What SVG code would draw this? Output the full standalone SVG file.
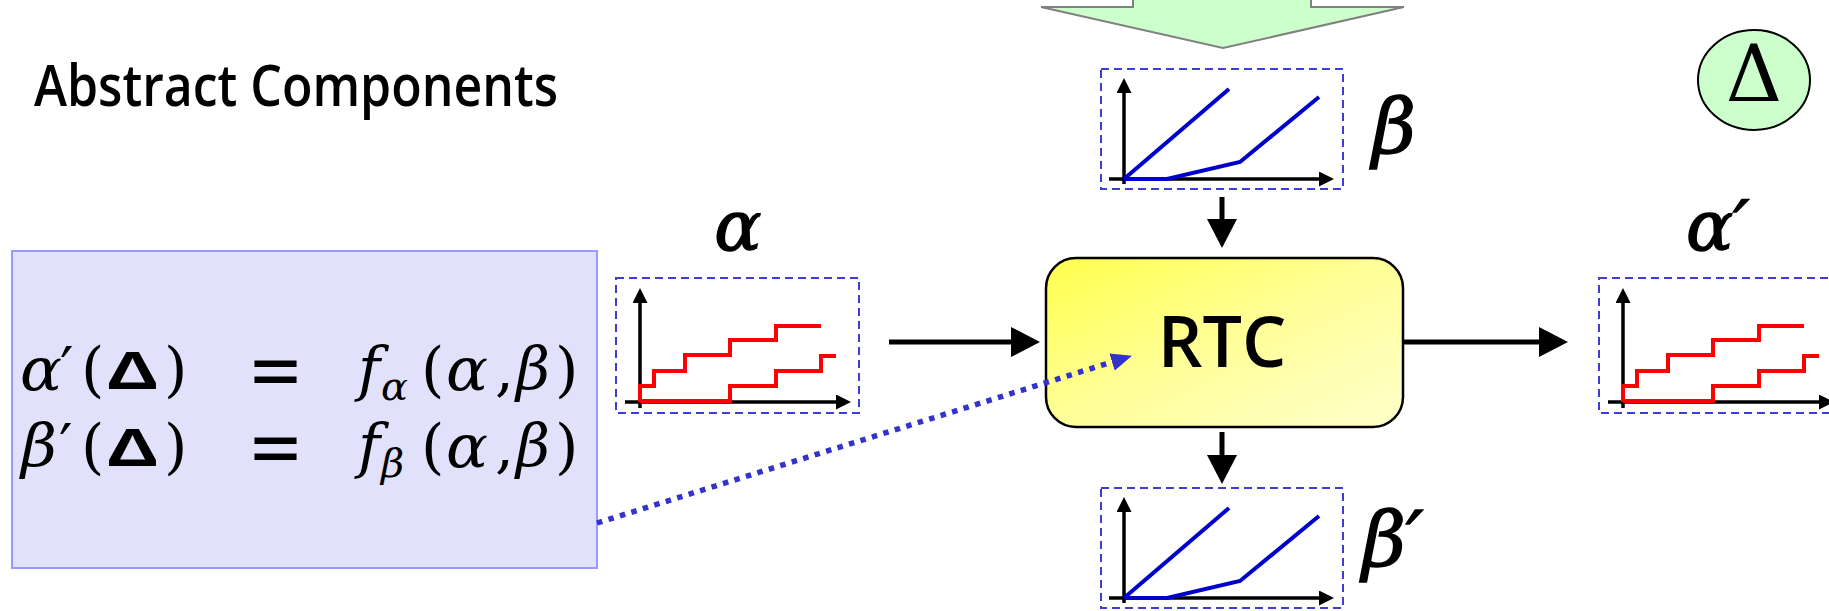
<svg xmlns="http://www.w3.org/2000/svg" width="1829" height="611" viewBox="0 0 1829 611">
  <style>
    .frame { fill: none; stroke: #3c3cd6; stroke-width: 2; stroke-dasharray: 8 5; }
    .axis { fill: none; stroke: #000; stroke-width: 3.5; }
    .stair { fill: none; stroke: #ff0000; stroke-width: 4; stroke-linejoin: miter; }
    .svc { fill: none; stroke: #0000cc; stroke-width: 4; stroke-linejoin: miter; }
    .flow { fill: none; stroke: #000; stroke-width: 5; }
    .sym { font-family: "DejaVu Serif", "Liberation Serif", serif; font-style: italic; fill: #000; }
    .big { stroke: #000; stroke-width: 1.4; }
    .up { font-family: "DejaVu Serif", "Liberation Serif", serif; fill: #000; }
    .op { font-family: "Liberation Sans", "DejaVu Sans", sans-serif; font-weight: bold; fill: #000; }
    .sans { font-family: "Open Sans", "Noto Sans", "Liberation Sans", sans-serif; font-weight: 600; fill: #000; }
    .eq text { font-size: 60px; }
  </style>
  <defs>
    <marker id="axhead" markerUnits="userSpaceOnUse" markerWidth="15" markerHeight="15" refX="0" refY="7.5" orient="auto">
      <path d="M0,0 L15,7.5 L0,15 z" fill="#000"/>
    </marker>
    <marker id="head" markerUnits="userSpaceOnUse" markerWidth="29" markerHeight="30" refX="0" refY="15" orient="auto">
      <path d="M0,0 L29,15 L0,30 z" fill="#000"/>
    </marker>
    <marker id="bluehead" markerUnits="userSpaceOnUse" markerWidth="21" markerHeight="18" refX="0" refY="9" orient="auto">
      <path d="M0,0 L21,9 L0,18 z" fill="#3333cc"/>
    </marker>
    <linearGradient id="rtcfill" x1="0" y1="0" x2="1" y2="1">
      <stop offset="0" stop-color="#ffff4d"/>
      <stop offset="0.5" stop-color="#ffff99"/>
      <stop offset="1" stop-color="#ffffcc"/>
    </linearGradient>
    <!-- arrival curve plot: two staircases -->
    <g id="stairPlot">
      <rect class="frame" x="616" y="278" width="243" height="135"/>
      <line class="axis" x1="640" y1="408" x2="640" y2="303" marker-end="url(#axhead)"/>
      <line class="axis" x1="625" y1="402" x2="836" y2="402" marker-end="url(#axhead)"/>
      <path class="stair" d="M640,402 V386 H654 V371 H685 V355 H730 V340 H776 V326 H821"/>
      <path class="stair" d="M640,401 H730 V386 H776 V371 H821 V356 H836"/>
    </g>
    <!-- service curve plot: two piecewise-linear bounds -->
    <g id="servicePlot">
      <rect class="frame" x="1101" y="69" width="242" height="120"/>
      <line class="axis" x1="1124" y1="184" x2="1124" y2="93" marker-end="url(#axhead)"/>
      <line class="axis" x1="1109" y1="179" x2="1319" y2="179" marker-end="url(#axhead)"/>
      <path class="svc" d="M1124,179 L1229,89"/>
      <path class="svc" d="M1124,179 H1167 L1240,162 L1319,97"/>
    </g>
  </defs>

  <!-- title -->
  <g id="title">
    <text class="sans" x="34" y="106" font-size="58" textLength="524" lengthAdjust="spacingAndGlyphs">Abstract Components</text>
  </g>

  <!-- incoming block arrow at the top -->
  <g id="input-arrow">
    <polygon points="1133,-3 1133,7 1041,7 1223,48 1404,7 1311,7 1311,-3" fill="#ccffcc" stroke="#808080" stroke-width="2" stroke-linejoin="miter"/>
  </g>

  <!-- interval marker -->
  <g id="delta">
    <ellipse cx="1754" cy="80" rx="56" ry="50" fill="#ccffcc" stroke="#000" stroke-width="2"/>
    <text class="up" x="1754" y="101" font-size="78" text-anchor="middle">Δ</text>
  </g>

  <!-- equation panel -->
  <g id="equations" class="eq">
    <rect x="12" y="251" width="585" height="317" fill="#e1e1fb" stroke="#9999ff" stroke-width="2"/>
    <!-- first row: alpha' -->
    <text class="sym" x="20" y="390" textLength="42" lengthAdjust="spacingAndGlyphs">α</text>
    <text class="up" x="60" y="390">′</text>
    <text class="up" x="81" y="390">(</text>
    <text class="op" x="106" y="389" style="font-size:54px" textLength="53" lengthAdjust="spacingAndGlyphs">Δ</text>
    <text class="up" x="164" y="390">)</text>
    <text class="op" x="251" y="391" textLength="49" lengthAdjust="spacingAndGlyphs">=</text>
    <text class="sym" x="358" y="390">f</text>
    <text class="sym" x="381" y="400" style="font-size:40px">α</text>
    <text class="up" x="421" y="390">(</text>
    <text class="sym" x="446" y="390" textLength="42" lengthAdjust="spacingAndGlyphs">α</text>
    <text class="up" x="495" y="390">,</text>
    <text class="sym" x="516" y="390" textLength="34" lengthAdjust="spacingAndGlyphs">β</text>
    <text class="up" x="555" y="390">)</text>
    <!-- second row: beta' -->
    <text class="sym" x="21" y="467" textLength="36" lengthAdjust="spacingAndGlyphs">β</text>
    <text class="up" x="59" y="467">′</text>
    <text class="up" x="81" y="467">(</text>
    <text class="op" x="106" y="466" style="font-size:54px" textLength="53" lengthAdjust="spacingAndGlyphs">Δ</text>
    <text class="up" x="164" y="467">)</text>
    <text class="op" x="251" y="468" textLength="49" lengthAdjust="spacingAndGlyphs">=</text>
    <text class="sym" x="358" y="467">f</text>
    <text class="sym" x="381" y="477" style="font-size:40px">β</text>
    <text class="up" x="421" y="467">(</text>
    <text class="sym" x="446" y="467" textLength="42" lengthAdjust="spacingAndGlyphs">α</text>
    <text class="up" x="495" y="467">,</text>
    <text class="sym" x="516" y="467" textLength="34" lengthAdjust="spacingAndGlyphs">β</text>
    <text class="up" x="555" y="467">)</text>
  </g>

  <!-- input arrival curve -->
  <g id="alpha">
    <use href="#stairPlot"/>
    <text class="sym big" x="738" y="250" font-size="70" text-anchor="middle">α</text>
  </g>

  <!-- output arrival curve -->
  <g id="alpha-out">
    <use href="#stairPlot" transform="translate(983,0)"/>
    <text class="sym big" x="1686" y="250" font-size="70">α′</text>
  </g>

  <!-- input service curve -->
  <g id="beta">
    <use href="#servicePlot"/>
    <text class="sym big" x="1372" y="153" font-size="76">β</text>
  </g>

  <!-- remaining service curve -->
  <g id="beta-out">
    <use href="#servicePlot" transform="translate(0,419)"/>
    <text class="sym big" x="1362" y="566" font-size="76">β′</text>
  </g>

  <!-- RTC component -->
  <g id="rtc">
    <rect x="1046" y="258" width="357" height="169" rx="30" ry="30" fill="url(#rtcfill)" stroke="#000" stroke-width="2.5"/>
    <text class="sans" x="1222" y="367" font-size="70" text-anchor="middle">RTC</text>
  </g>

  <!-- connectors -->
  <g id="connectors">
    <line class="flow" x1="889" y1="342" x2="1011" y2="342" marker-end="url(#head)"/>
    <line class="flow" x1="1403" y1="342" x2="1539" y2="342" marker-end="url(#head)"/>
    <line class="flow" x1="1222" y1="197" x2="1222" y2="219" marker-end="url(#head)"/>
    <line class="flow" x1="1222" y1="432" x2="1222" y2="455" marker-end="url(#head)"/>
    <line x1="597" y1="523" x2="1112" y2="362" stroke="#3333cc" stroke-width="5.5" stroke-dasharray="5.5 6.5" marker-end="url(#bluehead)"/>
  </g>
</svg>
